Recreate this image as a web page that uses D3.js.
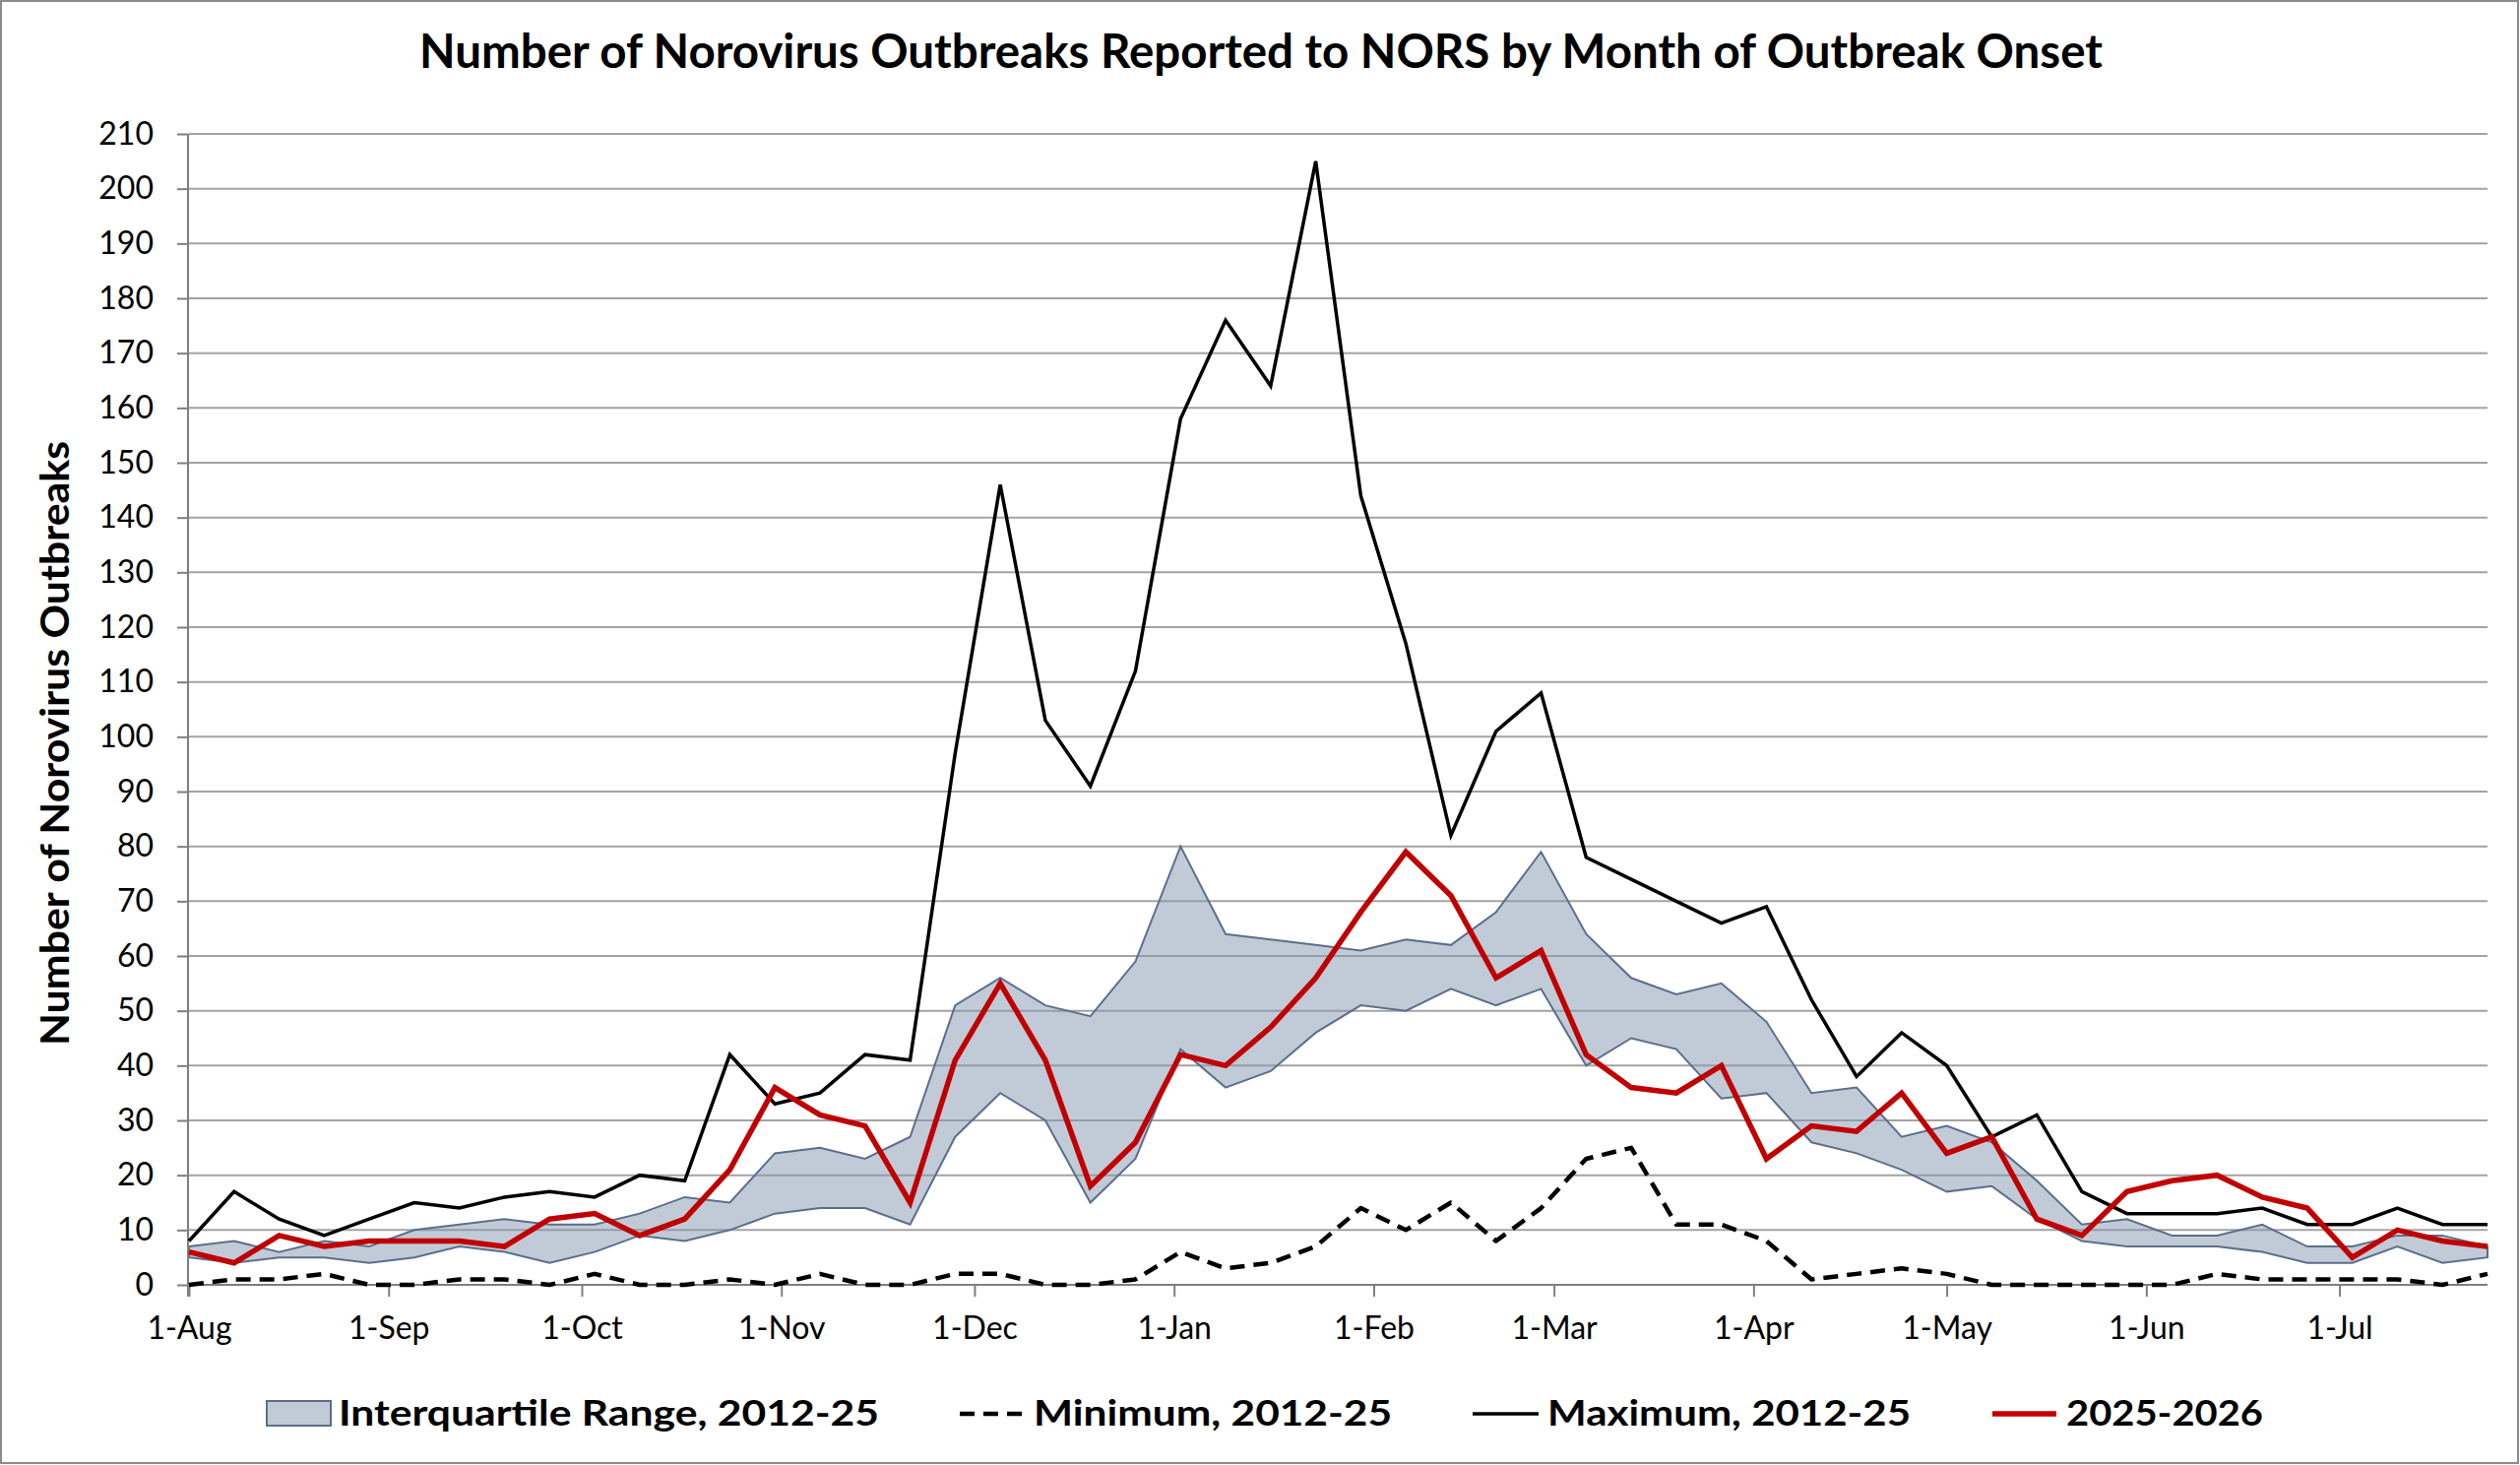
<!DOCTYPE html>
<html>
<head>
<meta charset="utf-8">
<script src="https://cdn.jsdelivr.net/npm/d3@7"></script>
<style>
  html, body { margin: 0; padding: 0; background: #ffffff; }
  svg { display: block; }
</style>
</head>
<body>
<svg id="chart" width="2560" height="1488"></svg>
<script>
// ---------- DATA ----------
const weekDates = [
  "2025-08-01","2025-08-08","2025-08-15","2025-08-22","2025-08-29",
  "2025-09-05","2025-09-12","2025-09-19","2025-09-26",
  "2025-10-03","2025-10-10","2025-10-17","2025-10-24","2025-10-31",
  "2025-11-07","2025-11-14","2025-11-21","2025-11-28",
  "2025-12-05","2025-12-12","2025-12-19","2025-12-26",
  "2026-01-02","2026-01-09","2026-01-16","2026-01-23","2026-01-30",
  "2026-02-06","2026-02-13","2026-02-20","2026-02-27",
  "2026-03-06","2026-03-13","2026-03-20","2026-03-27",
  "2026-04-03","2026-04-10","2026-04-17","2026-04-24",
  "2026-05-01","2026-05-08","2026-05-15","2026-05-22","2026-05-29",
  "2026-06-05","2026-06-12","2026-06-19","2026-06-26",
  "2026-07-03","2026-07-10","2026-07-17","2026-07-24"
];
const iqrLow = [5,4,5,5,4,5,7,6,4,6,9,8,10,13,14,14,11,27,35,30,15,23,43,36,39,46,51,50,54,51,54,40,45,43,34,35,26,24,21,17,18,12,8,7,7,7,6,4,4,7,4,5];
const iqrHigh = [7,8,6,8,7,10,11,12,11,11,13,16,15,24,25,23,27,51,56,51,49,59,80,64,63,62,61,63,62,68,79,64,56,53,55,48,35,36,27,29,26,19,11,12,9,9,11,7,7,9,9,7];
const minimum = [0,1,1,2,0,0,1,1,0,2,0,0,1,0,2,0,0,2,2,0,0,1,6,3,4,7,14,10,15,8,14,23,25,11,11,8,1,2,3,2,0,0,0,0,0,2,1,1,1,1,0,2];
const maximum = [8,17,12,9,12,15,14,16,17,16,20,19,42,33,35,42,41,97,146,103,91,112,158,176,164,205,144,117,82,101,108,78,74,70,66,69,52,38,46,40,27,31,17,13,13,13,14,11,11,14,11,11];
const current = [6,4,9,7,8,8,8,7,12,13,9,12,21,36,31,29,15,41,55,41,18,26,42,40,47,56,68,79,71,56,61,42,36,35,40,23,29,28,35,24,27,12,9,17,19,20,16,14,5,10,8,7];

const monthTickDates = ["2025-08-01","2025-09-01","2025-10-01","2025-11-01","2025-12-01","2026-01-01","2026-02-01","2026-03-01","2026-04-01","2026-05-01","2026-06-01","2026-07-01"];
const monthTickLabels = ["1-Aug","1-Sep","1-Oct","1-Nov","1-Dec","1-Jan","1-Feb","1-Mar","1-Apr","1-May","1-Jun","1-Jul"];
const yTicks = [0,10,20,30,40,50,60,70,80,90,100,110,120,130,140,150,160,170,180,190,200,210];

const titleText = "Number of Norovirus Outbreaks Reported to NORS by Month of Outbreak Onset";
const yTitleText = "Number of Norovirus Outbreaks";
const legendLabels = ["Interquartile Range, 2012-25","Minimum, 2012-25","Maximum, 2012-25","2025-2026"];

// ---------- DRAW ----------
(function () {
const parse = d3.utcParse("%Y-%m-%d");
const dates = weekDates.map(parse);
const rows = dates.map((d, i) => ({
  date: d, lo: iqrLow[i], hi: iqrHigh[i], mn: minimum[i], mx: maximum[i], cur: current[i]
}));

const svg = d3.select("#chart");
const FONT = "Lato, 'Open Sans', 'DejaVu Sans', sans-serif";

const pLeft = 192, pRight = 2527, pTop = 136, pBottom = 1305;

const x = d3.scaleUtc().domain([dates[0], dates[dates.length - 1]]).range([pLeft, pRight]);
const y = d3.scaleLinear().domain([0, 210]).range([pBottom, pTop]);

// outer border
svg.append("rect").attr("x", 1).attr("y", 1).attr("width", 2557).attr("height", 1485)
  .attr("fill", "#ffffff").attr("stroke", "#8c8c8c").attr("stroke-width", 2);

// gridlines
svg.append("g").selectAll("line").data(yTicks.filter(t => t > 0)).join("line")
  .attr("x1", pLeft).attr("x2", pRight)
  .attr("y1", d => y(d)).attr("y2", d => y(d))
  .attr("stroke", "#a3a3a3").attr("stroke-width", 2);

// IQR band
const area = d3.area().x(d => x(d.date)).y0(d => y(d.lo)).y1(d => y(d.hi));
svg.append("path").datum(rows).attr("d", area)
  .attr("fill", "#8497b0").attr("fill-opacity", 0.5)
  .attr("stroke", "#5b6f8c").attr("stroke-width", 2).attr("stroke-linejoin", "miter");

// y axis
const yAxis = d3.axisLeft(y).tickValues(yTicks).tickSize(11).tickPadding(24).tickFormat(d3.format("d"));
const gy = svg.append("g").attr("transform", `translate(${pLeft - 1},0)`).call(yAxis);
gy.select(".domain").attr("stroke", "#7f7f7f").attr("stroke-width", 2).attr("d", `M0,${pTop}V${pBottom + 12}`);
gy.selectAll(".tick line").attr("stroke", "#7f7f7f").attr("stroke-width", 2);
gy.selectAll(".tick text").attr("font-family", FONT).attr("font-size", 32).attr("fill", "#000");

// x axis
const xAxis = d3.axisBottom(x).tickValues(monthTickDates.map(parse))
  .tickFormat((d, i) => monthTickLabels[i]).tickSize(12).tickPadding(20);
const gx = svg.append("g").attr("transform", `translate(0,${pBottom})`).call(xAxis);
gx.select(".domain").attr("stroke", "#7f7f7f").attr("stroke-width", 2).attr("d", `M${pLeft - 1},0H${pRight}`);
gx.selectAll(".tick line").attr("stroke", "#7f7f7f").attr("stroke-width", 2);
gx.selectAll(".tick text").attr("font-family", FONT).attr("font-size", 32).attr("fill", "#000");

// lines
const lineOf = key => d3.line().x(d => x(d.date)).y(d => y(d[key]));
svg.append("path").datum(rows).attr("d", lineOf("mn"))
  .attr("fill", "none").attr("stroke", "#000").attr("stroke-width", 4.5)
  .attr("stroke-dasharray", "15,9").attr("stroke-linejoin", "round");
svg.append("path").datum(rows).attr("d", lineOf("mx"))
  .attr("fill", "none").attr("stroke", "#000").attr("stroke-width", 3.5)
  .attr("stroke-linejoin", "miter");
svg.append("path").datum(rows).attr("d", lineOf("cur"))
  .attr("fill", "none").attr("stroke", "#c00000").attr("stroke-width", 5.5)
  .attr("stroke-linejoin", "miter");

// title
svg.append("text").attr("x", 1281).attr("y", 69).attr("text-anchor", "middle")
  .attr("font-family", FONT).attr("font-weight", "bold").attr("font-size", 47)
  .attr("textLength", 1710).attr("lengthAdjust", "spacingAndGlyphs")
  .text(titleText);

// y title
svg.append("text").attr("transform", "translate(70,755) rotate(-90)").attr("text-anchor", "middle")
  .attr("font-family", FONT).attr("font-weight", "bold").attr("font-size", 40)
  .attr("textLength", 614).attr("lengthAdjust", "spacingAndGlyphs")
  .text(yTitleText);

// legend
const lg = svg.append("g").attr("font-family", FONT).attr("font-weight", "bold").attr("font-size", 36);
const ly = 1436, lb = 1448;
lg.append("rect").attr("x", 271).attr("y", 1423).attr("width", 65).attr("height", 25)
  .attr("fill", "#8497b0").attr("fill-opacity", 0.5).attr("stroke", "#5b6f8c").attr("stroke-width", 2);
lg.append("text").attr("x", 344).attr("y", lb).attr("textLength", 549).attr("lengthAdjust", "spacingAndGlyphs").text(legendLabels[0]);

lg.append("line").attr("x1", 975).attr("x2", 1045).attr("y1", ly).attr("y2", ly)
  .attr("stroke", "#000").attr("stroke-width", 4.5).attr("stroke-dasharray", "15,9");
lg.append("text").attr("x", 1050).attr("y", lb).attr("textLength", 364).attr("lengthAdjust", "spacingAndGlyphs").text(legendLabels[1]);

lg.append("line").attr("x1", 1496).attr("x2", 1563).attr("y1", ly).attr("y2", ly)
  .attr("stroke", "#000").attr("stroke-width", 3.5);
lg.append("text").attr("x", 1572).attr("y", lb).attr("textLength", 369).attr("lengthAdjust", "spacingAndGlyphs").text(legendLabels[2]);

lg.append("line").attr("x1", 2024).attr("x2", 2089).attr("y1", ly).attr("y2", ly)
  .attr("stroke", "#c00000").attr("stroke-width", 5.5);
lg.append("text").attr("x", 2099).attr("y", lb).attr("textLength", 200).attr("lengthAdjust", "spacingAndGlyphs").text(legendLabels[3]);
})();
</script>
</body>
</html>
